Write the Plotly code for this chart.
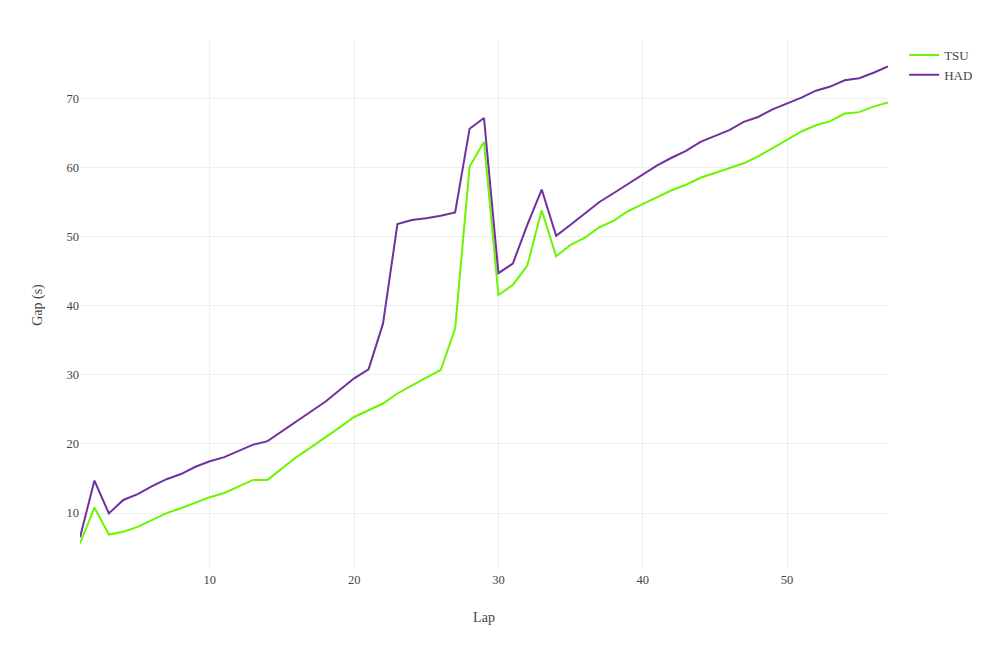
import plotly.graph_objects as go

laps = list(range(1, 58))

tsu_gap = [5.6, 10.8, 6.9, 7.3, 8.0, 9.0, 10.0, 10.7, 11.5, 12.3,
           12.9, 13.9, 14.8, 14.8, 16.5, 18.1, 19.5, 20.9, 22.4, 23.9,
           24.9, 25.85, 27.3, 28.5, 29.6, 30.7, 36.7, 60.1, 63.7, 41.55,
           43.0, 45.8, 53.8, 47.15, 48.8, 49.85, 51.35, 52.3, 53.7, 54.7,
           55.7, 56.7, 57.5, 58.5, 59.2, 59.9, 60.6, 61.6, 62.75, 64.0,
           65.2, 66.1, 66.7, 67.8, 68.0, 68.8, 69.4]

had_gap = [6.5, 14.7, 9.95, 11.9, 12.75, 13.9, 14.9, 15.65, 16.7, 17.5,
           18.1, 19.0, 19.9, 20.4, 21.8, 23.2, 24.6, 26.1, 27.8, 29.5,
           30.8, 37.4, 51.8, 52.4, 52.65, 53.0, 53.5, 65.6, 67.15, 44.7,
           46.1, 51.7, 56.8, 50.1, 51.7, 53.3, 55.0, 56.3, 57.6, 59.0,
           60.3, 61.4, 62.4, 63.7, 64.5, 65.4, 66.6, 67.3, 68.4, 69.2,
           70.1, 71.1, 71.7, 72.6, 72.9, 73.7, 74.6]

drivers = ["TSU", "HAD"]
colors = ["#6cf500", "#7030a0"]

fig = go.Figure()
for name, vals, col in zip(drivers, [tsu_gap, had_gap], colors):
    fig.add_trace(go.Scatter(x=laps, y=vals, mode="lines", name=name,
                             line=dict(color=col, width=2)))

fig.update_layout(
    width=986, height=650,
    template="plotly_white",
    font=dict(family="Liberation Serif, Times New Roman, serif", size=13, color="#444"),
    margin=dict(l=72, r=106, t=32, b=88),
    xaxis=dict(title=dict(text="Lap", font=dict(size=14), standoff=26),
               tickfont=dict(size=12.5), gridcolor="#eeeeee",
               zeroline=False, showline=False, automargin=False),
    yaxis=dict(title=dict(text="Gap (s)", font=dict(size=14), standoff=20),
               tickfont=dict(size=12.5), gridcolor="#eeeeee",
               zeroline=False, showline=False, automargin=False),
    legend=dict(font=dict(size=13)),
    plot_bgcolor="white", paper_bgcolor="white",
)

fig.write_html("out.html")
